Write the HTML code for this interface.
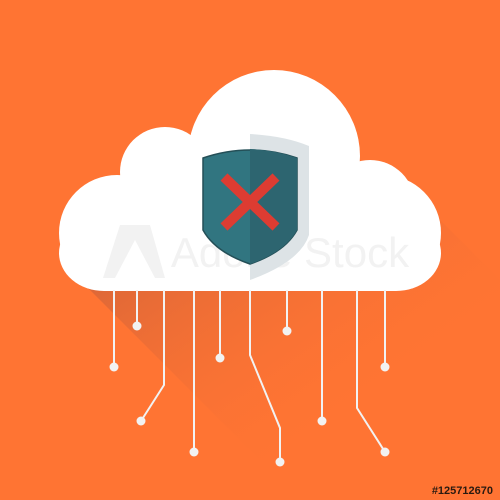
<!DOCTYPE html>
<html><head><style>
html,body{margin:0;padding:0;width:500px;height:500px;overflow:hidden;background:#FF7433;}
</style></head><body>
<svg width="500" height="500" viewBox="0 0 500 500" xmlns="http://www.w3.org/2000/svg">
<defs>
<linearGradient id="sh" x1="0" y1="0" x2="1" y2="1">
<stop offset="0" stop-color="#B85A3C" stop-opacity="0.8"/>
<stop offset="0.7" stop-color="#FF7433" stop-opacity="0"/>
</linearGradient>
<clipPath id="cc"><rect x="0" y="0" width="500" height="291"/></clipPath>
</defs>
<rect width="500" height="500" fill="#FF7433"/>
<polygon points="75,275 420,200 500,280 500,500 300,500" fill="url(#sh)"/>
<g fill="#ffffff" clip-path="url(#cc)">
<circle cx="274" cy="156" r="86"/>
<circle cx="165" cy="172" r="45"/>
<circle cx="117" cy="233" r="58"/>
<circle cx="370" cy="205" r="45"/>
<circle cx="383" cy="233" r="58"/>
<rect x="117" y="180" width="266" height="111"/>
<rect x="59" y="215" width="382" height="76" rx="45"/>
</g>
<g opacity="0.85">
<text x="290" y="267" font-family="Liberation Sans, sans-serif" font-size="42" text-anchor="middle" fill="#f0f0f0">Adobe Stock</text>
<path d="M103,278 L120,225 L150,225 L165,278 L155,278 L135,240 L115,278 Z" fill="#f0f0f0"/>
</g>
<path d="M250,134 Q285,136 309,146 L309,235 Q300,262 250,280 Z" fill="#DDE3E6"/>
<path d="M203,158 Q250,142 297,158 L297,230 Q285,252 250,264 Q215,252 203,230 Z" fill="#317580" stroke="#244F57" stroke-width="1.5"/>
<path d="M250,149 Q275,150 297,158 L297,230 Q285,252 250,264 Z" fill="#2D6570"/>
<g stroke="#DD3C32" stroke-width="10">
<line x1="224" y1="177" x2="276" y2="227"/>
<line x1="276" y1="177" x2="224" y2="227"/>
</g>
<g stroke="#F2F2F2" stroke-width="2" fill="none">
<path d="M114,290V367"/><path d="M137,290V326"/>
<path d="M164,290V385L141,421"/><path d="M194,290V452"/>
<path d="M220,290V358"/><path d="M250,290V355L280,428V462"/>
<path d="M287,290V331"/><path d="M322,290V421"/>
<path d="M357,290V408L385,452"/><path d="M385,290V367"/>
</g>
<g fill="#F2F2F2">
<circle cx="114" cy="367" r="4.5"/><circle cx="137" cy="326" r="4.5"/>
<circle cx="141" cy="421" r="4.5"/><circle cx="194" cy="452" r="4.5"/>
<circle cx="220" cy="358" r="4.5"/><circle cx="280" cy="462" r="4.5"/>
<circle cx="287" cy="331" r="4.5"/><circle cx="322" cy="421" r="4.5"/>
<circle cx="385" cy="452" r="4.5"/><circle cx="385" cy="367" r="4.5"/>
</g>
<text x="493" y="494" font-family="Liberation Sans, sans-serif" font-size="11" font-weight="bold" fill="#2a1a10" text-anchor="end">#125712670</text>
</svg>
</body></html>
